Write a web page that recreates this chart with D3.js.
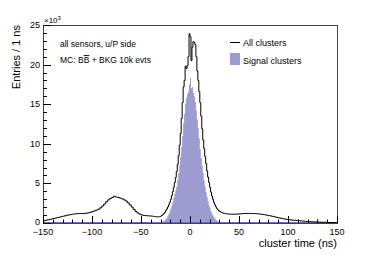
<!DOCTYPE html>
<html>
<head>
<meta charset="utf-8">
<script src="https://cdn.jsdelivr.net/npm/d3@7"></script>
<style>
  body { margin: 0; background: #fff; }
  svg { display: block; font-family: "Liberation Sans", Arial, sans-serif; }
</style>
</head>
<body>
<svg id="chart"></svg>
<script>
// ---- data (counts in units of 10^3 entries per 1 ns) ----
// all clusters, left tail: 2 ns bins from -150 to -40
const allLeftTail = [
  0.28, 0.34, 0.40, 0.45, 0.50, 0.56, 0.62, 0.68, 0.74, 0.80,
  0.86, 0.92, 0.98, 1.03, 1.08, 1.12, 1.15, 1.18, 1.19, 1.20,
  1.21, 1.22, 1.25, 1.30, 1.36, 1.45, 1.55, 1.63, 1.75, 1.92,
  2.15, 2.40, 2.68, 2.92, 3.10, 3.22, 3.38, 3.28, 3.22, 3.15,
  3.05, 2.92, 2.78, 2.55, 2.30, 2.02, 1.72, 1.45, 1.25, 1.12,
  1.02, 0.96, 0.93, 0.91, 0.89
];
// all clusters, core: 1 ns bins from -40 to 40
const allCore = [
  0.88, 0.87, 0.85, 0.83, 0.81, 0.79, 0.76, 0.77, 0.79, 0.82,
  0.87, 0.95, 1.06, 1.20, 1.36, 1.55, 1.77, 2.02, 2.30, 2.62,
  3.00, 3.45, 3.95, 4.50, 5.10, 5.75, 6.50, 7.40, 8.50, 9.80,
  11.3, 13.2, 15.2, 17.2, 18.0, 19.8, 19.5, 19.9, 21.0, 23.9,
  23.5, 20.5, 22.2, 22.9, 22.8, 22.5, 21.0, 19.2, 18.0, 16.6,
  15.2, 13.5, 11.9, 10.5, 9.4, 8.4, 7.5, 6.6, 5.8, 5.1,
  4.5, 3.9, 3.4, 3.0, 2.6, 2.3, 2.05, 1.85, 1.68, 1.55,
  1.45, 1.38, 1.32, 1.27, 1.23, 1.20, 1.18, 1.16, 1.15, 1.14
];
// all clusters, right tail: 2 ns bins from 40 to 150
const allRightTail = [
  1.12, 1.11, 1.11, 1.12, 1.13, 1.15, 1.17, 1.19, 1.20, 1.21,
  1.21, 1.20, 1.19, 1.18, 1.16, 1.14, 1.11, 1.07, 1.03, 0.98,
  0.93, 0.88, 0.83, 0.77, 0.71, 0.65, 0.60, 0.55, 0.50, 0.46,
  0.42, 0.39, 0.36, 0.34, 0.32, 0.30, 0.27, 0.24, 0.22, 0.20,
  0.18, 0.17, 0.15, 0.14, 0.13, 0.12, 0.11, 0.10, 0.09, 0.08,
  0.07, 0.06, 0.06, 0.05, 0.05
];
// signal clusters: 1 ns bins from -40 to 40 (empty elsewhere)
const signalCore = [
  0, 0, 0, 0, 0, 0, 0, 0, 0, 0.03,
  0.06, 0.10, 0.16, 0.24, 0.35, 0.50, 0.68, 0.90, 1.15, 1.45,
  1.80, 2.20, 2.65, 3.15, 3.65, 4.10, 4.60, 5.40, 6.30, 7.30,
  8.40, 9.60, 11.0, 12.6, 13.8, 15.1, 15.8, 16.3, 16.6, 17.5,
  18.3, 17.0, 17.2, 16.4, 16.0, 15.3, 14.2, 13.1, 12.0, 10.7,
  9.3, 8.2, 7.2, 6.3, 5.4, 4.6, 3.9, 3.3, 2.75, 2.25,
  1.85, 1.50, 1.20, 0.95, 0.74, 0.56, 0.42, 0.30, 0.21, 0.14,
  0.09, 0.05, 0.03, 0.01, 0, 0, 0, 0, 0, 0
];

const xTicks = [-150, -100, -50, 0, 50, 100, 150];
const yTicks = [0, 5, 10, 15, 20, 25];
const legendLabels = ["All clusters", "Signal clusters"];
const infoLines = ["all sensors, u/P side", "MC: B"];

// ---- layout ----
const width = 374, height = 255;
const margins = { left: 43, right: 37, top: 25, bottom: 32 };
const signalColor = "#9c9cd0";

const svg = d3.select("svg#chart").attr("width", width).attr("height", height);

const xScale = d3.scaleLinear().domain([-150, 150])
  .range([margins.left, width - margins.right]);
const yScale = d3.scaleLinear().domain([0, 25])
  .range([height - margins.bottom, margins.top]);

// build bins {x0, x1, v} from the arrays
function makeBins(values, start, w) {
  return values.map((v, i) => ({ x0: start + i * w, x1: start + (i + 1) * w, v: v }));
}
const allBins = [].concat(
  makeBins(allLeftTail, -150, 2),
  makeBins(allCore, -40, 1),
  makeBins(allRightTail, 40, 2)
);
const signalBins = makeBins(signalCore, -40, 1);

function stepPoints(bins) {
  const pts = bins.map(b => [b.x0, b.v]);
  const last = bins[bins.length - 1];
  pts.push([last.x1, last.v]);
  return pts;
}

svg.append("clipPath").attr("id", "frameClip")
  .append("rect")
  .attr("x", margins.left).attr("y", margins.top)
  .attr("width", xScale(150) - xScale(-150))
  .attr("height", yScale(0) - yScale(25));

const plot = svg.append("g").attr("clip-path", "url(#frameClip)");

// signal histogram (filled)
plot.append("path")
  .attr("d", d3.area()
    .curve(d3.curveStepAfter)
    .x(d => xScale(d[0]))
    .y0(yScale(0))
    .y1(d => yScale(d[1]))(stepPoints(signalBins)))
  .attr("fill", signalColor)
  .attr("stroke", "none");

// signal histogram outline along zero
plot.append("line")
  .attr("x1", xScale(-150)).attr("x2", xScale(150))
  .attr("y1", yScale(0) - 0.5).attr("y2", yScale(0) - 0.5)
  .attr("stroke", "#7070b8").attr("stroke-width", 1);

// all clusters histogram (line)
plot.append("path")
  .attr("d", d3.line()
    .curve(d3.curveStepAfter)
    .x(d => xScale(d[0]))
    .y(d => yScale(d[1]))(stepPoints(allBins)))
  .attr("fill", "none")
  .attr("stroke", "#000")
  .attr("stroke-width", 1);

// frame
svg.append("rect")
  .attr("x", margins.left + 0.5).attr("y", margins.top + 0.5)
  .attr("width", xScale(150) - xScale(-150))
  .attr("height", yScale(0) - yScale(25))
  .attr("fill", "none").attr("stroke", "#444").attr("stroke-width", 1);

// x axis ticks (ROOT style, inside)
const xAxis = svg.append("g");
d3.range(-150, 151, 10).forEach(t => {
  const major = t % 50 === 0;
  xAxis.append("line")
    .attr("x1", Math.round(xScale(t)) + 0.5).attr("x2", Math.round(xScale(t)) + 0.5)
    .attr("y1", yScale(0)).attr("y2", yScale(0) - (major ? 7 : 3.5))
    .attr("stroke", "#000");
});
xAxis.selectAll("text").data(xTicks).join("text")
  .attr("x", d => xScale(d))
  .attr("y", yScale(0) + 12)
  .attr("text-anchor", "middle")
  .attr("font-size", 9)
  .text(d => d < 0 ? "\u2212" + Math.abs(d) : d);

// y axis ticks
const yAxis = svg.append("g");
d3.range(0, 25.01, 1).forEach(v => {
  const major = v % 5 === 0;
  yAxis.append("line")
    .attr("x1", margins.left).attr("x2", margins.left + (major ? 8 : 4))
    .attr("y1", Math.round(yScale(v)) + 0.5).attr("y2", Math.round(yScale(v)) + 0.5)
    .attr("stroke", "#000");
});
yAxis.selectAll("text").data(yTicks).join("text")
  .attr("x", margins.left - 3)
  .attr("y", d => yScale(d) + (d === 0 ? 2 : 3))
  .attr("text-anchor", "end")
  .attr("font-size", 9)
  .text(d => d);

// x10^3 exponent
const expo = svg.append("text").attr("x", margins.left + 1).attr("y", margins.top - 2)
  .attr("font-size", 8);
expo.append("tspan").text("\u00d710");
expo.append("tspan").attr("dy", -3).attr("font-size", 6).text("3");

// axis titles
svg.append("text")
  .attr("x", xScale(150)).attr("y", 247)
  .attr("text-anchor", "end")
  .attr("font-size", 11)
  .text("cluster time (ns)");

svg.append("text")
  .attr("transform", `translate(20,${margins.top}) rotate(-90)`)
  .attr("text-anchor", "end")
  .attr("font-size", 11)
  .text("Entries / 1 ns");

// info text
svg.append("text").attr("x", 60).attr("y", 47).attr("font-size", 8.5).text(infoLines[0]);
const mc = svg.append("text").attr("x", 60).attr("y", 63).attr("font-size", 8.5);
mc.append("tspan").text(infoLines[1]);
mc.append("tspan").attr("text-decoration", "overline").text("B");
mc.append("tspan").text(" + BKG 10k evts");

// legend
const legend = svg.append("g");
legend.append("line")
  .attr("x1", 230).attr("x2", 240).attr("y1", 42.5).attr("y2", 42.5)
  .attr("stroke", "#000");
legend.append("rect")
  .attr("x", 230).attr("y", 53).attr("width", 10).attr("height", 12)
  .attr("fill", signalColor);
legend.selectAll("text").data(legendLabels).join("text")
  .attr("x", 243)
  .attr("y", (d, i) => 46 + i * 17.5)
  .attr("font-size", 9)
  .text(d => d);
</script>
</body>
</html>
